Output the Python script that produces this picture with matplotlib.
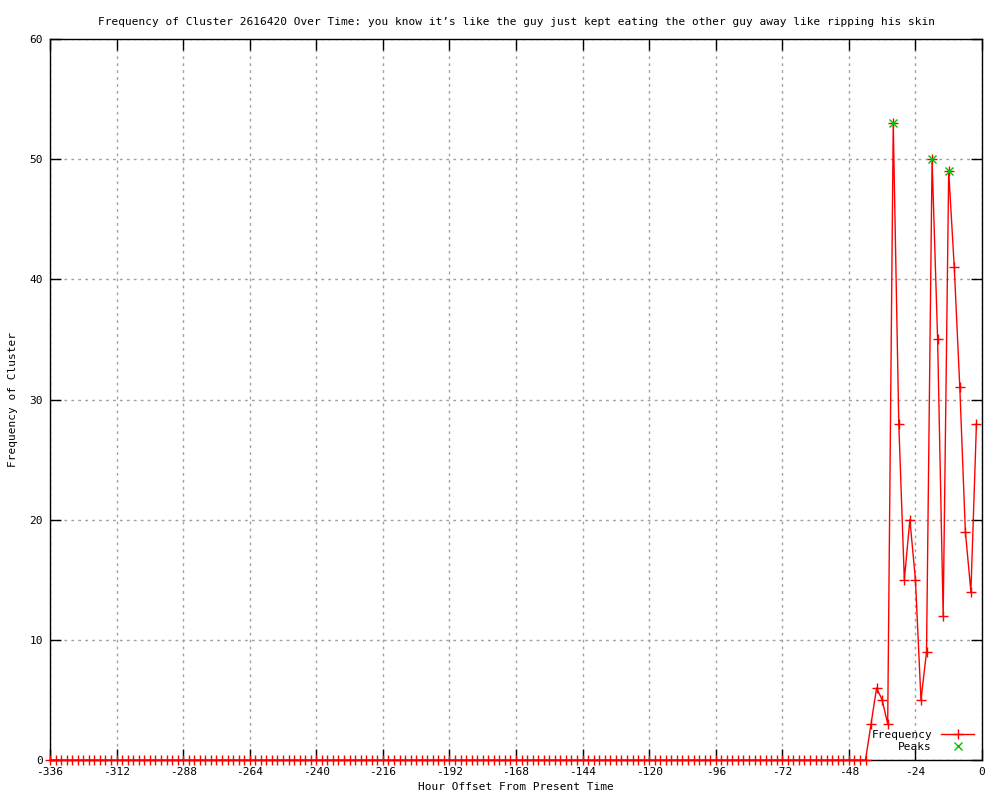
import numpy as np
import matplotlib
matplotlib.use("Agg")
import matplotlib.pyplot as plt

# hourly offsets (every 2 hours) and cluster frequency
hours = np.arange(-336, 0, 2)
freq = np.zeros(len(hours))
recent_hours = [-40, -38, -36, -34, -32, -30, -28, -26, -24, -22,
                -20, -18, -16, -14, -12, -10, -8, -6, -4, -2]
recent_freq = [3, 6, 5, 3, 53, 28, 15, 20, 15, 5,
               9, 50, 35, 12, 49, 41, 31, 19, 14, 28]
for h, f in zip(recent_hours, recent_freq):
    freq[hours == h] = f

peak_hours = [-32, -18, -12]
peak_freq = [53, 50, 49]

title = ("Frequency of Cluster 2616420 Over Time: you know it\u2019s like the guy "
         "just kept eating the other guy away like ripping his skin")

plt.rcParams['font.family'] = ['DejaVu Sans Mono']
plt.rcParams['font.size'] = 8
plt.rcParams['axes.unicode_minus'] = False

fig = plt.figure(figsize=(10, 8), dpi=100)
ax = fig.add_axes([0.05, 0.05, 0.932, 0.90125])

ax.plot(hours, freq, color="red", linewidth=1, marker="+",
        markersize=7, markeredgewidth=1, label="Frequency",
        clip_on=False, zorder=3)
ax.plot(peak_hours, peak_freq, linestyle="none", color="#00c000",
        marker="x", markersize=6, markeredgewidth=1, label="Peaks",
        zorder=4)

ax.set_xlim(-336, 0)
ax.set_ylim(0, 60)
ax.set_xticks(np.arange(-336, 1, 24))
ax.set_yticks(np.arange(0, 61, 10))
ax.tick_params(direction="in", length=8, width=1, top=True, right=True,
               labelsize=8, pad=5)
ax.grid(True, color="#a0a0a0", linestyle=(0, (2, 3)), linewidth=1)
for s in ax.spines.values():
    s.set_linewidth(1)

ax.set_title(title, fontsize=8, pad=10)
ax.set_xlabel("Hour Offset From Present Time", fontsize=8, labelpad=4)
ax.set_ylabel("Frequency of Cluster", fontsize=8, labelpad=8)

ax.legend(loc="lower right", frameon=False, fontsize=8, markerfirst=False,
          handlelength=3, borderaxespad=0.3, labelspacing=0.2)

fig.savefig("out.png", dpi=100)
